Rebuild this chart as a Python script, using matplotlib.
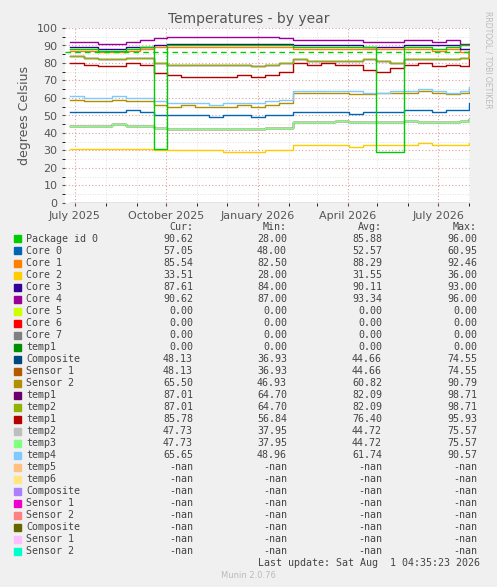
import matplotlib
matplotlib.use("Agg")
import matplotlib.pyplot as plt
import matplotlib.dates as mdates
import pandas as pd
import numpy as np

dates = list(pd.date_range("2025-06-26", periods=29, freq="14D")) + [pd.Timestamp("2026-08-01")]

core4 = [92,92,91,91,92,93,94,95,95,95,95,95,95,95,95,94,93,93,93,93,93,92,92,92,93,93,92,93,91,91]
core3 = [89,89,88,88,89,89,90,91,91,91,91,91,91,91,91,91,90,90,90,90,90,89,89,89,90,90,90,90,88,88]
core1 = [87,87,86,86,87,88,89,89,89,89,89,89,89,89,89,89,88,88,88,88,88,88,88,88,88,88,87,88,86,86]
package = [88,88,87,87,88,89,31,90,90,90,90,90,90,90,90,90,89,89,89,89,89,89,29,29,89,89,88,89,90,90]
temp2a = [84,83,82,82,83,83,80,79,79,79,79,79,79,78,79,80,82,81,81,81,81,82,81,80,82,82,82,82,83,87]
temp1b = [80,79,78,78,80,79,74,73,72,72,72,72,73,72,73,75,80,79,80,79,79,76,75,77,79,80,78,79,78,86]
temp4 = [61,60,60,61,60,60,58,57,57,57,56,57,57,57,58,59,64,64,64,64,64,63,63,64,64,65,64,63,64,66]
sensor2 = [59,58,58,59,58,58,56,55,56,55,55,55,56,55,56,57,63,63,63,63,62,62,63,63,63,64,63,62,63,65]
core0 = [52,52,52,52,53,52,50,50,50,50,49,50,50,49,50,50,52,52,52,52,51,52,52,52,53,53,52,53,53,57]
composite = [44,44,44,45,44,44,43,42,42,42,42,42,42,42,43,43,46,46,46,47,46,46,46,46,47,46,46,46,47,48]
core2 = [31,31,31,31,31,31,30,30,30,30,30,29,29,29,30,30,33,33,33,33,32,33,33,33,33,34,33,33,33,34]
zeros = [0]*30
warn_level = 86

legend_rows = [
    ("Package id 0", "#00cc00", "90.62", "28.00", "85.88", "96.00"),
    ("Core 0", "#0066b3", "57.05", "48.00", "52.57", "60.95"),
    ("Core 1", "#ff8000", "85.54", "82.50", "88.29", "92.46"),
    ("Core 2", "#ffcc00", "33.51", "28.00", "31.55", "36.00"),
    ("Core 3", "#330099", "87.61", "84.00", "90.11", "93.00"),
    ("Core 4", "#990099", "90.62", "87.00", "93.34", "96.00"),
    ("Core 5", "#ccff00", "0.00", "0.00", "0.00", "0.00"),
    ("Core 6", "#ff0000", "0.00", "0.00", "0.00", "0.00"),
    ("Core 7", "#808080", "0.00", "0.00", "0.00", "0.00"),
    ("temp1", "#008f00", "0.00", "0.00", "0.00", "0.00"),
    ("Composite", "#00487d", "48.13", "36.93", "44.66", "74.55"),
    ("Sensor 1", "#b35a00", "48.13", "36.93", "44.66", "74.55"),
    ("Sensor 2", "#b38f00", "65.50", "46.93", "60.82", "90.79"),
    ("temp1", "#6b006b", "87.01", "64.70", "82.09", "98.71"),
    ("temp2", "#8fb300", "87.01", "64.70", "82.09", "98.71"),
    ("temp1", "#b30000", "85.78", "56.84", "76.40", "95.93"),
    ("temp2", "#bebebe", "47.73", "37.95", "44.72", "75.57"),
    ("temp3", "#80ff80", "47.73", "37.95", "44.72", "75.57"),
    ("temp4", "#80c9ff", "65.65", "48.96", "61.74", "90.57"),
    ("temp5", "#ffc080", "-nan", "-nan", "-nan", "-nan"),
    ("temp6", "#ffe680", "-nan", "-nan", "-nan", "-nan"),
    ("Composite", "#aa80ff", "-nan", "-nan", "-nan", "-nan"),
    ("Sensor 1", "#ee00cc", "-nan", "-nan", "-nan", "-nan"),
    ("Sensor 2", "#ff8080", "-nan", "-nan", "-nan", "-nan"),
    ("Composite", "#666600", "-nan", "-nan", "-nan", "-nan"),
    ("Sensor 1", "#ffbfff", "-nan", "-nan", "-nan", "-nan"),
    ("Sensor 2", "#00ffcc", "-nan", "-nan", "-nan", "-nan"),
]

W, H = 497, 587
fig = plt.figure(figsize=(W/100, H/100), dpi=100, facecolor="#f0f0f0")
ax = fig.add_axes([65/W, 1-203/H, 405/W, 175/H], facecolor="white")

series = [
    (zeros, "#808080"),
    (composite, "#00487d"), (composite, "#bebebe"), (composite, "#b35a00"), (composite, "#80ff80"),
    (core2, "#ffcc00"), (core0, "#0066b3"), (sensor2, "#b38f00"), (temp4, "#80c9ff"),
    (temp1b, "#b30000"), (temp2a, "#6b006b"), (temp2a, "#8fb300"),
    (core1, "#ff8000"), (core3, "#330099"), (core4, "#990099"), (package, "#00cc00"),
]
for vals, c in series:
    ax.plot(dates, vals, color=c, lw=1, drawstyle="steps-post")
ax.axhline(warn_level, color="#00cc00", lw=1, ls=(0, (4, 3)))

ax.set_xlim(pd.Timestamp("2025-06-21"), pd.Timestamp("2026-08-02"))
ax.set_ylim(0, 100)
ax.set_yticks(range(0, 101, 10))
ax.set_yticks(range(0, 101, 5), minor=True)
ax.xaxis.set_major_locator(mdates.MonthLocator(bymonth=[1, 4, 7, 10]))
ax.xaxis.set_major_formatter(mdates.DateFormatter("%B %Y"))
ax.xaxis.set_minor_locator(mdates.MonthLocator())
ax.grid(which="major", axis="both", color="#e0a0a0", ls=(0, (1, 2)), lw=0.8)
ax.grid(which="minor", axis="both", color="#d8d8d8", ls=(0, (1, 2)), lw=0.6)
ax.tick_params(labelsize=8, colors="#555555", length=2)
for s in ax.spines.values():
    s.set_visible(False)
ax.set_ylabel("degrees Celsius", fontsize=9, color="#555555")
fig.text(0.5, 1-19/H, "Temperatures - by year", ha="center", va="center", fontsize=10, color="#555555")
fig.text(488/W, 1-60/H, "RRDTOOL / TOBI OETIKER", rotation=270, fontsize=5.5, color="#bbbbbb", ha="center", va="center")

mono = "DejaVu Sans Mono"
fs = 7.2
y0 = 227
for x, h in zip([193, 287, 382, 477], ["Cur:", "Min:", "Avg:", "Max:"]):
    fig.text(x/W, 1-y0/H, h, ha="right", va="center", family=mono, fontsize=fs, color="#444444")
for i, (name, col, cur, mn, av, mx) in enumerate(legend_rows):
    y = 1 - (239 + i*12)/H
    fig.patches.append(plt.Rectangle((14/W, y-3.5/H), 7/W, 7/H, transform=fig.transFigure, color=col))
    fig.text(26/W, y, name, va="center", family=mono, fontsize=fs, color="#444444")
    for x, v in zip([193, 287, 382, 477], [cur, mn, av, mx]):
        fig.text(x/W, y, v, ha="right", va="center", family=mono, fontsize=fs, color="#444444")
fig.text(480/W, 1-563/H, "Last update: Sat Aug  1 04:35:23 2026", ha="right", va="center", family=mono, fontsize=fs, color="#444444")
fig.text(0.5, 1-576/H, "Munin 2.0.76", ha="center", va="center", fontsize=6, color="#bbbbbb")

fig.savefig("out.png", dpi=100, facecolor=fig.get_facecolor())
